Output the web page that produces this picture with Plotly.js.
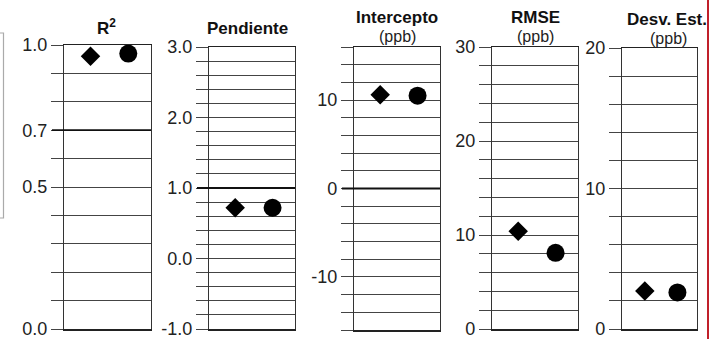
<!DOCTYPE html>
<html>
<head>
<meta charset="utf-8">
<script src="https://cdn.plot.ly/plotly-3.0.1.min.js"></script>
<style>html,body{margin:0;padding:0;background:#fff;}#chart{width:710px;height:339px;}</style>
</head>
<body>
<div id="chart"></div>
<script>
// ---- data ----
const categories = ['Modelo 1', 'Modelo 2'];
const r2Values = [0.96, 0.97];
const pendienteValues = [0.72, 0.72];
const interceptoValues = [10.6, 10.5];
const rmseValues = [10.4, 8.1];
const desvValues = [2.7, 2.6];

const r2Labels = [1.0, 0.7, 0.5, 0.0];
const pendienteLabels = [3.0, 2.0, 1.0, 0.0, -1.0];
const interceptoLabels = [10, 0, -10];
const rmseLabels = [30, 20, 10, 0];
const desvLabels = [20, 10, 0];

const panelTitles = ['R<sup>2</sup>', 'Pendiente', 'Intercepto', 'RMSE', 'Desv. Est.'];
const panelUnits = ['', '', '(ppb)', '(ppb)', '(ppb)'];
const refLines = [0.7, 1.0, 0, null, null];

// ---- layout helpers ----
const W = 710, H = 339;
const panels = [
  {vals: r2Values, labels: r2Labels, range: [0, 1], step: 0.1, dec: 1, px: [64, 151], py: [45, 329]},
  {vals: pendienteValues, labels: pendienteLabels, range: [-1, 3], step: 0.2, dec: 1, px: [209, 295], py: [47, 329]},
  {vals: interceptoValues, labels: interceptoLabels, range: [-16, 16], step: 2, dec: 0, px: [354, 440], py: [47, 330]},
  {vals: rmseValues, labels: rmseLabels, range: [0, 30], step: 2, dec: 0, px: [492, 578], py: [47, 329]},
  {vals: desvValues, labels: desvLabels, range: [0, 20], step: 2, dec: 0, px: [622, 697], py: [48, 329]}
];
const titlePos = [[106, 27], [248, 28], [397, 18], [535, 18], [667, 20]];
const unitPos = [null, null, [397, 37], [535, 37], [668, 38]];

const font = 'Liberation Sans, Arial, Helvetica, sans-serif';
const traces = [];
const layout = {
  width: W, height: H,
  margin: {l: 0, r: 0, t: 0, b: 0},
  paper_bgcolor: '#fff', plot_bgcolor: '#fff',
  showlegend: false,
  font: {family: font, color: '#222'},
  shapes: [], annotations: []
};

panels.forEach((p, i) => {
  const n = i + 1;
  const xa = 'xaxis' + (n === 1 ? '' : n), ya = 'yaxis' + (n === 1 ? '' : n);
  const xr = 'x' + (n === 1 ? '' : n), yr = 'y' + (n === 1 ? '' : n);
  const tv = [], tt = [];
  const count = Math.round((p.range[1] - p.range[0]) / p.step);
  for (let k = 0; k <= count; k++) {
    const v = +(p.range[0] + k * p.step).toFixed(4);
    tv.push(v);
    const lab = p.labels.find(l => Math.abs(l - v) < 1e-6);
    tt.push(lab === undefined ? ' ' : lab.toFixed(p.dec));
  }
  layout[xa] = {
    domain: [p.px[0] / W, p.px[1] / W], range: [-0.7, 1.6],
    showgrid: false, zeroline: false, showticklabels: false, ticks: '',
    showline: true, mirror: true, linecolor: '#222', linewidth: 1.5,
    anchor: yr, fixedrange: true
  };
  layout[ya] = {
    domain: [1 - p.py[1] / H, 1 - p.py[0] / H], range: p.range,
    tickmode: 'array', tickvals: tv, ticktext: tt,
    ticks: 'outside', ticklen: 12, tickcolor: '#444', tickwidth: 1,
    showgrid: true, gridcolor: '#444', gridwidth: 1,
    zeroline: false, showline: true, mirror: true, linecolor: '#333', linewidth: 1.2,
    tickfont: {size: 18, color: '#222', family: font},
    ticklabeloverflow: 'allow',
    anchor: xr, fixedrange: true
  };
  traces.push({
    x: [0], y: [p.vals[0]], xaxis: xr, yaxis: yr, type: 'scatter', mode: 'markers',
    name: categories[0], cliponaxis: false,
    marker: {symbol: 'diamond', size: 15, color: '#000'}
  });
  traces.push({
    x: [1], y: [p.vals[1]], xaxis: xr, yaxis: yr, type: 'scatter', mode: 'markers',
    name: categories[1], cliponaxis: false,
    marker: {symbol: 'circle', size: 18, color: '#000'}
  });
  if (refLines[i] !== null) {
    layout.shapes.push({
      type: 'line', xref: xr + ' domain', yref: yr,
      x0: -12 / (p.px[1] - p.px[0]), x1: 1, y0: refLines[i], y1: refLines[i],
      line: {color: '#111', width: 1.8}
    });
  }
  layout.annotations.push({
    xref: 'paper', yref: 'paper', x: titlePos[i][0] / W, y: 1 - titlePos[i][1] / H,
    text: '<b>' + panelTitles[i] + '</b>', showarrow: false,
    xanchor: 'center', yanchor: 'middle', font: {size: 17, color: '#111', family: font}
  });
  if (unitPos[i]) {
    layout.annotations.push({
      xref: 'paper', yref: 'paper', x: unitPos[i][0] / W, y: 1 - unitPos[i][1] / H,
      text: panelUnits[i], showarrow: false,
      xanchor: 'center', yanchor: 'middle', font: {size: 16, color: '#222', family: font}
    });
  }
});

// cut-off legend box on the left edge and red frame line on the right edge
layout.shapes.push({type: 'rect', xref: 'paper', yref: 'paper',
  x0: -20 / W, x1: 3.5 / W, y0: 1 - 218 / H, y1: 1 - 33 / H,
  line: {color: '#aaa', width: 1.2}, fillcolor: 'rgba(0,0,0,0)'});
layout.shapes.push({type: 'line', xref: 'paper', yref: 'paper',
  x0: 708 / W, x1: 708 / W, y0: 0, y1: 1,
  line: {color: '#c0202a', width: 2}});

Plotly.newPlot('chart', traces, layout, {staticPlot: true, displayModeBar: false});
</script>
</body>
</html>
